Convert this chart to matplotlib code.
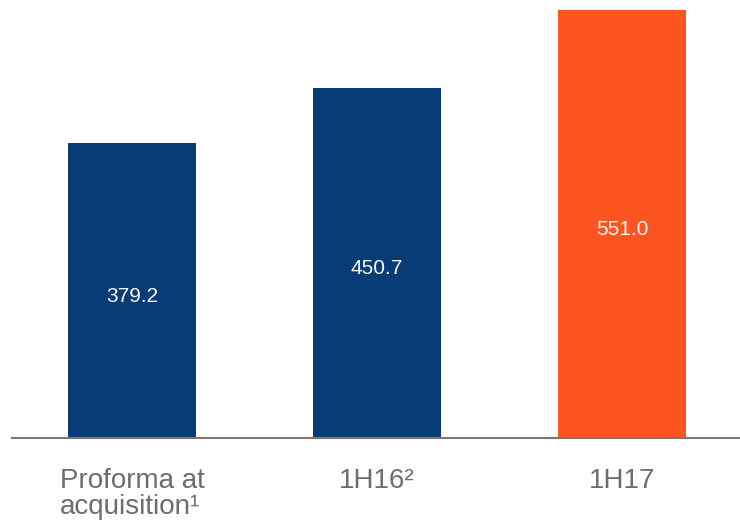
import matplotlib
matplotlib.use("Agg")
import matplotlib.pyplot as plt

categories = ["Proforma at\nacquisition\u00b9", "1H16\u00b2", "1H17"]
values = [379.2, 450.7, 551.0]
bar_colors = ["#073c76", "#073c76", "#fc5520"]

plt.rcParams["font.family"] = ["Liberation Sans", "DejaVu Sans"]

fig = plt.figure(figsize=(7.4, 5.23), dpi=100)
ax = fig.add_axes([12 / 740, 85.5 / 523, 728 / 740, 437.5 / 523])

x = list(range(len(values)))
bars = ax.bar(x, values, width=0.522, color=bar_colors)

for b, v in zip(bars, values):
    ax.annotate("%.1f" % v, (b.get_x() + b.get_width() / 2, v / 2),
                xytext=(0, -3), textcoords="offset points",
                ha="center", va="center_baseline", color="#fbf5f2",
                fontsize=15)

ax.set_xlim(-0.49, 2.481)
ax.set_ylim(0, 563.9)
ax.set_xticks(x)
ax.set_xticklabels(categories, fontsize=20, color="#736b67",
                   linespacing=1.02, multialignment="left")
ax.tick_params(axis="x", length=0, pad=22)
ax.set_yticks([])
for s in ["top", "right", "left"]:
    ax.spines[s].set_visible(False)
ax.spines["bottom"].set_color("#7f7772")
ax.spines["bottom"].set_linewidth(1.5)

fig.savefig("out.png", dpi=100)
